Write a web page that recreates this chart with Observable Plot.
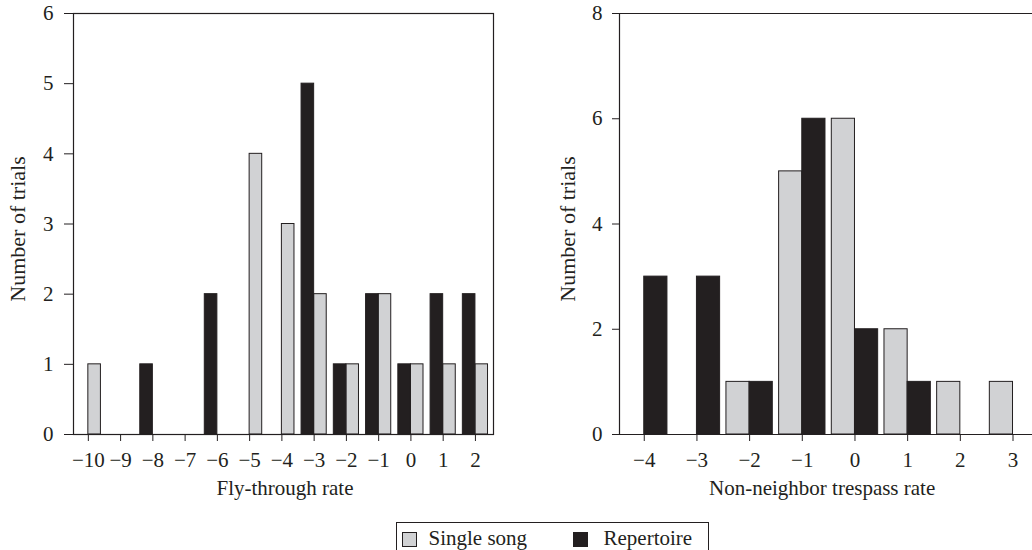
<!DOCTYPE html>
<html>
<head>
<meta charset="utf-8">
<script src="https://cdn.jsdelivr.net/npm/d3@7"></script>
<script src="https://cdn.jsdelivr.net/npm/@observablehq/plot@0.6"></script>
<style>
  html, body { margin: 0; padding: 0; background: #fff; overflow: hidden; }
  #root { position: relative; width: 1032px; height: 550px; font-family: 'Liberation Serif', 'Times New Roman', serif; color: #231f20; }
  .abs { position: absolute; }
  .title { font-size: 21px; line-height: 21px; white-space: nowrap; }
  .ytitle { font-size: 22px; line-height: 22px; white-space: nowrap; transform: translate(-50%, -50%) rotate(-90deg); }
  #legend { position: absolute; left: 395.5px; top: 521.5px; width: 313px; height: 40px; border: 1px solid #231f20; box-sizing: border-box; }
  .sw { position: absolute; width: 15px; height: 15px; box-sizing: border-box; border: 1px solid #231f20; }
  .lt { position: absolute; font-size: 21px; line-height: 21px; white-space: nowrap; }
</style>
</head>
<body>
<div id="root"></div>
<script>
// ---- Data ----
const flyRates = [-10, -9, -8, -7, -6, -5, -4, -3, -2, -1, 0, 1, 2];
const flySingle = [1, 0, 0, 0, 0, 4, 3, 2, 1, 2, 1, 1, 1];
const flyRepertoire = [0, 0, 1, 0, 2, 0, 0, 5, 1, 2, 1, 2, 2];

const trespassRates = [-4, -3, -2, -1, 0, 1, 2, 3];
const trespassSingle = [0, 0, 1, 5, 6, 2, 1, 1];
const trespassRepertoire = [3, 3, 1, 6, 2, 1, 0, 0];

const seriesNames = ["Single song", "Repertoire"];
const flyYTicks = [0, 1, 2, 3, 4, 5, 6];
const trespassYTicks = [0, 2, 4, 6, 8];

// ---- Styles ----
const INK = "#231f20";
const GRAY = "#d1d2d4";
const FONT = "'Liberation Serif', 'Times New Roman', serif";
const fmt = d => d < 0 ? "\u2212" + Math.abs(d) : String(d);

function rows(rates, single, rep) {
  const out = [];
  rates.forEach((r, i) => {
    out.push({rate: r, n: single[i], series: seriesNames[0]});
    out.push({rate: r, n: rep[i], series: seriesNames[1]});
  });
  return out.filter(d => d.n > 0);
}

const root = document.getElementById("root");

// ---- Left panel: Fly-through rate ----
const flyData = rows(flyRates, flySingle, flyRepertoire);
const flyW = 0.39;
const flyDomain = [-10.46, 2.56];
const left = Plot.plot({
  width: 520, height: 472,
  marginLeft: 73, marginRight: 27, marginTop: 13, marginBottom: 38,
  style: {fontSize: "21px", fontFamily: FONT, color: INK, background: "transparent", overflow: "visible"},
  x: {domain: flyDomain},
  y: {domain: [0, 6]},
  marks: [
    Plot.rectY(flyData, {
      x1: d => d.series === seriesNames[0] ? d.rate : d.rate - flyW,
      x2: d => d.series === seriesNames[0] ? d.rate + flyW : d.rate,
      y: "n",
      fill: d => d.series === seriesNames[0] ? GRAY : INK,
      stroke: INK, strokeWidth: 1, inset: 0
    }),
    Plot.frame({stroke: INK, strokeWidth: 1.2}),
    Plot.axisX({ticks: flyRates, tickFormat: fmt, tickSize: 7, tickPadding: 11, label: null, stroke: INK}),
    Plot.axisY({ticks: flyYTicks, tickFormat: fmt, tickSize: 9, tickPadding: 11, label: null, stroke: INK})
  ]
});
left.style.position = "absolute"; left.style.left = "0px"; left.style.top = "0px";
root.appendChild(left);

// ---- Right panel: Non-neighbor trespass rate ----
const trData = rows(trespassRates, trespassSingle, trespassRepertoire);
const trW = 0.44;
const trDomain = [-4.47, 3.37];
const right = Plot.plot({
  width: 512, height: 472,
  marginLeft: 99, marginRight: 0, marginTop: 13, marginBottom: 38,
  style: {fontSize: "21px", fontFamily: FONT, color: INK, background: "transparent", overflow: "visible"},
  x: {domain: trDomain},
  y: {domain: [0, 8]},
  marks: [
    Plot.rectY(trData, {
      x1: d => d.series === seriesNames[0] ? d.rate - trW : d.rate,
      x2: d => d.series === seriesNames[0] ? d.rate : d.rate + trW,
      y: "n",
      fill: d => d.series === seriesNames[0] ? GRAY : INK,
      stroke: INK, strokeWidth: 1, inset: 0
    }),
    Plot.ruleX([trDomain[0]], {stroke: INK, strokeWidth: 1.2}),
    Plot.ruleY([0, 8], {stroke: INK, strokeWidth: 1.2}),
    Plot.axisX({ticks: trespassRates, tickFormat: fmt, tickSize: 7, tickPadding: 11, label: null, stroke: INK}),
    Plot.axisY({ticks: trespassYTicks, tickFormat: fmt, tickSize: 7, tickPadding: 10, label: null, stroke: INK})
  ]
});
right.style.position = "absolute"; right.style.left = "520px"; right.style.top = "0px";
root.appendChild(right);

// ---- Axis titles ----
function addText(cls, text, css) {
  const el = document.createElement("div");
  el.className = cls + " abs";
  el.textContent = text;
  Object.assign(el.style, css);
  root.appendChild(el);
  return el;
}
addText("title", "Fly-through rate", {left: "285px", top: "478px", transform: "translateX(-50%)"});
addText("title", "Non-neighbor trespass rate", {left: "709px", top: "478px"});
addText("ytitle", "Number of trials", {left: "18px", top: "229px"});
addText("ytitle", "Number of trials", {left: "568px", top: "229px"});

// ---- Legend ----
const legend = document.createElement("div");
legend.id = "legend";
const items = [
  {name: seriesNames[0], fill: GRAY, sw: 5, tx: 32},
  {name: seriesNames[1], fill: INK, sw: 176, tx: 207}
];
items.forEach(it => {
  const s = document.createElement("div");
  s.className = "sw";
  s.style.left = it.sw + "px"; s.style.top = "9.5px"; s.style.background = it.fill;
  legend.appendChild(s);
  const t = document.createElement("div");
  t.className = "lt";
  t.style.left = it.tx + "px"; t.style.top = "5px";
  t.textContent = it.name;
  legend.appendChild(t);
});
root.appendChild(legend);
</script>
</body>
</html>
